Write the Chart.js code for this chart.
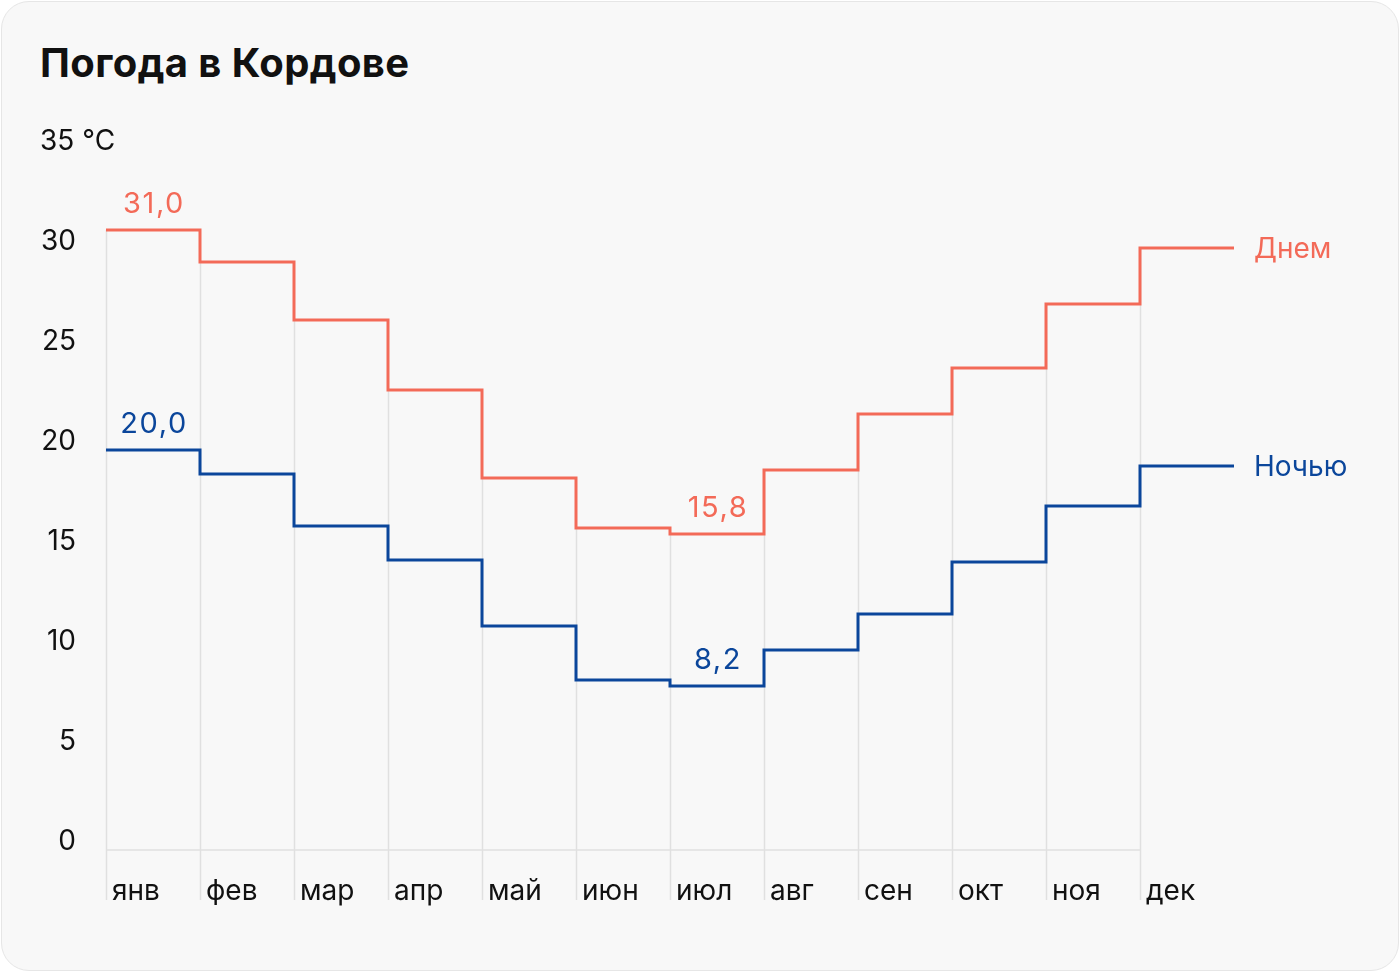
<!DOCTYPE html>
<html>
<head>
<meta charset="utf-8">
<script src="https://cdn.jsdelivr.net/npm/chart.js@4"></script>
<style>
  html, body { margin: 0; padding: 0; background: #fff; }
  .card {
    position: absolute; left: 1px; top: 1px; width: 1396px; height: 968px;
    background: #f8f8f8; border: 1px solid #e6e6e6; border-radius: 28px;
  }
  h1 {
    position: absolute; left: 40px; top: 38px; margin: 0;
    font: 700 40px Inter, sans-serif; color: #111; letter-spacing: 0.4px;
  }
  #chartCanvas { position: absolute; left: 0; top: 0; }
</style>
</head>
<body>
<div class="card"></div>
<h1>Погода в Кордове</h1>
<canvas id="chartCanvas" width="1400" height="972"></canvas>
<script>
const months = ['янв', 'фев', 'мар', 'апр', 'май', 'июн', 'июл', 'авг', 'сен', 'окт', 'ноя', 'дек'];
const dayTemps = [31.0, 29.4, 26.5, 23.0, 18.6, 16.1, 15.8, 19.0, 21.8, 24.1, 27.3, 30.1];
const nightTemps = [20.0, 18.8, 16.2, 14.5, 11.2, 8.5, 8.2, 10.0, 11.8, 14.4, 17.2, 19.2];
const yTicks = [0, 5, 10, 15, 20, 25, 30, 35];

const dayColor = '#f36a58';
const nightColor = '#0b469b';
const font = 'Inter, sans-serif';

// each month is a step from i to i+1, so the last value is repeated at 12
function steps(values) {
  const pts = values.map((v, i) => ({ x: i, y: v }));
  pts.push({ x: values.length, y: values[values.length - 1] });
  return pts;
}

const decorPlugin = {
  id: 'decor',
  beforeDatasetsDraw(chart) {
    const { ctx, scales: { x, y } } = chart;
    const bottom = y.getPixelForValue(0);
    ctx.save();
    ctx.strokeStyle = '#e0e0e0';
    ctx.lineWidth = 1.5;
    months.forEach((m, i) => {
      const px = Math.round(x.getPixelForValue(i)) + 0.5;
      ctx.beginPath();
      ctx.moveTo(px, y.getPixelForValue(dayTemps[i]));
      ctx.lineTo(px, bottom + 50);
      ctx.stroke();
    });
    ctx.beginPath();
    ctx.moveTo(x.getPixelForValue(0), bottom);
    ctx.lineTo(x.getPixelForValue(months.length - 1), bottom);
    ctx.stroke();
    ctx.restore();
  },
  afterDatasetsDraw(chart) {
    const { ctx, scales: { x, y } } = chart;
    ctx.save();
    ctx.font = '28px ' + font;
    ctx.textBaseline = 'alphabetic';

    // y axis title
    ctx.fillStyle = '#111';
    ctx.textAlign = 'left';
    ctx.fillText('35 °C', 40, y.getPixelForValue(35));

    // series names at the right end
    const end = x.getPixelForValue(months.length) + 20;
    ctx.fillStyle = dayColor;
    ctx.fillText('Днем', end, y.getPixelForValue(dayTemps[11]) + 10);
    ctx.fillStyle = nightColor;
    ctx.fillText('Ночью', end, y.getPixelForValue(nightTemps[11]) + 10);

    // min / max labels
    ctx.font = '29px ' + font;
    ctx.textAlign = 'center';
    ctx.letterSpacing = '1.6px';
    const marks = [
      [dayTemps, dayColor, dayTemps.indexOf(Math.max(...dayTemps))],
      [dayTemps, dayColor, dayTemps.indexOf(Math.min(...dayTemps))],
      [nightTemps, nightColor, nightTemps.indexOf(Math.max(...nightTemps))],
      [nightTemps, nightColor, nightTemps.indexOf(Math.min(...nightTemps))]
    ];
    marks.forEach(([arr, color, i]) => {
      ctx.fillStyle = color;
      ctx.fillText(arr[i].toFixed(1).replace('.', ','),
        x.getPixelForValue(i + 0.5) + 1, y.getPixelForValue(arr[i]) - 17);
    });
    ctx.restore();
  }
};

const ctx = document.getElementById('chartCanvas').getContext('2d');

const chart = new Chart(ctx, {
  type: 'line',
  data: {
    datasets: [{
      label: 'Днем',
      data: steps(dayTemps),
      borderColor: dayColor,
      borderWidth: 3,
      stepped: 'before',
      pointRadius: 0
    }, {
      label: 'Ночью',
      data: steps(nightTemps),
      borderColor: nightColor,
      borderWidth: 3,
      stepped: 'before',
      pointRadius: 0
    }]
  },
  options: {
    responsive: false,
    animation: false,
    layout: { padding: { left: 40, right: 166, top: 150, bottom: 0 } },
    plugins: {
      legend: { display: false },
      tooltip: { enabled: false }
    },
    scales: {
      x: {
        type: 'linear',
        min: 0,
        max: 12,
        afterFit(scale) { scale.height = 122; },
        grid: { display: false },
        border: { display: false },
        ticks: {
          stepSize: 1,
          align: 'start',
          labelOffset: 6,
          padding: 17,
          color: '#111',
          font: { family: font, size: 28 },
          callback: v => months[v] || ''
        }
      },
      y: {
        min: 0,
        max: 35,
        afterFit(scale) { scale.width = 66; },
        grid: { display: false, drawTicks: false },
        border: { display: false },
        afterBuildTicks(scale) { scale.ticks = yTicks.map(v => ({ value: v })); },
        ticks: {
          padding: 30,
          labelOffset: -8,
          color: '#111',
          font: { family: font, size: 28 },
          callback: v => v === 35 ? '' : String(v)
        }
      }
    }
  },
  plugins: [decorPlugin]
});
</script>
</body>
</html>
